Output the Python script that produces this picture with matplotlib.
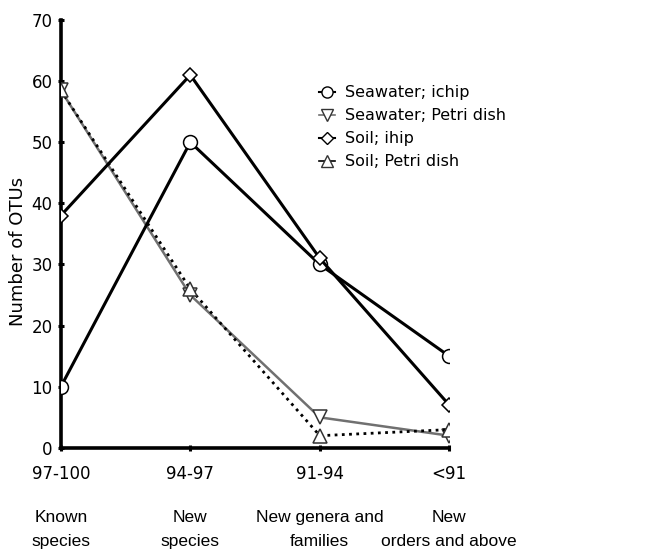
import matplotlib.pyplot as plt
from matplotlib.lines import Line2D

# data
ranges = ['97-100', '94-97', '91-94', '<91']
groups = ['Known\nspecies', 'New\nspecies', 'New genera and\nfamilies', 'New\norders and above']
sea_ichip = [10, 50, 30, 15]
sea_petri = [58.5, 25, 5, 2]
soil_ichip = [38, 61, 31, 7]
soil_petri = [58.5, 26, 2, 3]

x = list(range(len(ranges)))

fig = plt.figure(figsize=(6.54, 5.53), dpi=100)
ax = fig.add_axes([0.093, 0.19, 0.594, 0.774])

ax.plot(x, sea_ichip, color='black', lw=2.2, marker='o', ms=10,
        mfc='white', mec='black', mew=1.1, label='Seawater; ichip', zorder=4)
ax.plot(x, sea_petri, color='#707070', lw=1.8, marker='v', ms=9.5,
        mfc='white', mec='#333333', mew=1.1, label='Seawater; Petri dish', zorder=3)
ax.plot(x, soil_ichip, color='black', lw=2.2, marker='D', ms=7.5,
        mfc='white', mec='black', mew=1.1, label='Soil; ihip', zorder=4)
ax.plot(x, soil_petri, color='black', lw=2.0, ls=(0, (1, 1.6)), marker='^', ms=9.5,
        mfc='white', mec='#333333', mew=1.1, label='Soil; Petri dish', zorder=3)

ax.set_xlim(0, 3)
ax.set_ylim(0, 70)
ax.set_yticks(range(0, 71, 10))
ax.set_xticks(x)
ax.set_xticklabels(ranges)
ax.tick_params(labelsize=12, width=2.2, length=5, direction='inout')
ax.tick_params(axis='x', pad=10)

for s in ['top', 'right']:
    ax.spines[s].set_visible(False)
for s in ['left', 'bottom']:
    ax.spines[s].set_linewidth(2.6)
for sp in ax.spines.values():
    sp.set_clip_on(False)

ax.set_ylabel('Number of OTUs', fontsize=13)
ax.yaxis.set_label_coords(-0.088, 0.46)

for xi, g in zip(x, groups):
    ax.text(xi, -0.145, g, transform=ax.get_xaxis_transform(), ha='center', va='top',
            fontsize=12.5, family='Liberation Sans', linespacing=1.75)

handles = [
    Line2D([], [], color='black', lw=1.5, marker='o', ms=8, mfc='white', mec='black'),
    Line2D([], [], color='#707070', lw=1.2, marker='v', ms=8, mfc='white', mec='#333333'),
    Line2D([], [], color='black', lw=1.5, marker='D', ms=6, mfc='white', mec='black'),
    Line2D([], [], color='black', lw=1.2, marker='^', ms=8, mfc='white', mec='#333333'),
]
labels = ['Seawater; ichip', 'Seawater; Petri dish', 'Soil; ihip', 'Soil; Petri dish']
fig.legend(handles, labels, loc='upper left', bbox_to_anchor=(0.478, 0.857),
           frameon=False, fontsize=11.5, handlelength=1.0, handletextpad=0.65,
           labelspacing=0.5, borderaxespad=0)

fig.savefig('out.png', dpi=100)
